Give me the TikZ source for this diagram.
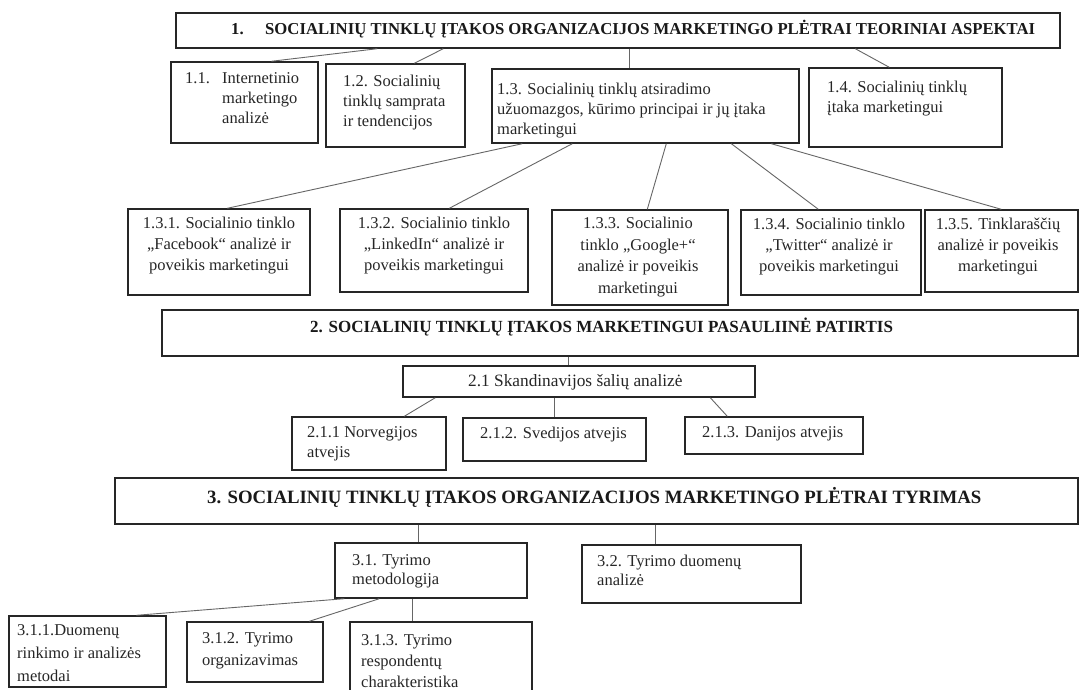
\documentclass[tikz,border=0pt]{standalone}
\usepackage{fontspec}
\setmainfont{Liberation Serif}
\usetikzlibrary{fit}
\begin{document}
\begin{tikzpicture}[x=1pt,y=-1pt,
  box/.style={draw=black!85, line width=1.4pt, inner sep=0pt},
  link/.style={draw=black!60, line width=0.9pt},
  txt/.style={inner sep=0pt, anchor=base west, align=left, text=black!85, font=\fontsize{16.5}{21}\selectfont},
  ctxt/.style={txt, anchor=base, align=center},
  head/.style={inner sep=0pt, anchor=base west, text=black!90, font=\fontsize{16.7}{20}\selectfont\bfseries}]
\clip (0,0) rectangle (1089,690);
\fill[white] (0,0) rectangle (1089,690);
% boxes
\node[box, fit={(176,13)(1060,48)}] (b1) {};
\node[box, fit={(171,62)(318,143)}] (b11) {};
\node[box, fit={(326,64)(465,147)}] (b12) {};
\node[box, fit={(492,69)(799,143)}] (b13) {};
\node[box, fit={(809,68)(1002,147)}] (b14) {};
\node[box, fit={(128,209)(310,295)}] (b131) {};
\node[box, fit={(340,209)(528,292)}] (b132) {};
\node[box, fit={(552,210)(728,305)}] (b133) {};
\node[box, fit={(741,210)(921,295)}] (b134) {};
\node[box, fit={(925,210)(1078,292)}] (b135) {};
\node[box, fit={(162,310)(1078,356)}] (b2) {};
\node[box, fit={(403,366)(755,397)}] (b21) {};
\node[box, fit={(292,417)(446,470)}] (b211) {};
\node[box, fit={(463,418)(646,461)}] (b212) {};
\node[box, fit={(685,417)(863,454)}] (b213) {};
\node[box, fit={(115,478)(1078,524)}] (b3) {};
\node[box, fit={(335,543)(527,598)}] (b31) {};
\node[box, fit={(582,545)(801,603)}] (b32) {};
\node[box, fit={(9,616)(166,687)}] (b311) {};
\node[box, fit={(187,622)(323,682)}] (b312) {};
\node[box, fit={(350,622)(532,700)}] (b313) {};
% connectors
\draw[link] ([xshift=202pt]b1.south west) -- ([xshift=101pt]b11.north west);
\draw[link] ([xshift=268pt]b1.south west) -- ([xshift=89pt]b12.north west);
\draw[link] ([xshift=454pt]b1.south west) -- ([xshift=138pt]b13.north west);
\draw[link] ([xshift=680pt]b1.south west) -- ([xshift=81pt]b14.north west);
\draw[link] ([xshift=31pt]b13.south west) -- ([xshift=100pt]b131.north west);
\draw[link] ([xshift=81pt]b13.south west) -- ([xshift=110pt]b132.north west);
\draw[link] ([xshift=175pt]b13.south west) -- ([xshift=96pt]b133.north west);
\draw[link] ([xshift=240pt]b13.south west) -- ([xshift=78pt]b134.north west);
\draw[link] ([xshift=280pt]b13.south west) -- ([xshift=77pt]b135.north west);
\draw[link] ([xshift=407pt]b2.south west) -- ([xshift=166pt]b21.north west);
\draw[link] ([xshift=33pt]b21.south west) -- ([xshift=113pt]b211.north west);
\draw[link] ([xshift=152pt]b21.south west) -- ([xshift=92pt]b212.north west);
\draw[link] ([xshift=308pt]b21.south west) -- ([xshift=43pt]b213.north west);
\draw[link] ([xshift=304pt]b3.south west) -- ([xshift=84pt]b31.north west);
\draw[link] ([xshift=541pt]b3.south west) -- ([xshift=74pt]b32.north west);
\draw[link] ([xshift=10pt]b31.south west) -- ([xshift=128pt]b311.north west);
\draw[link] ([xshift=45pt]b31.south west) -- ([xshift=123pt]b312.north west);
\draw[link] ([xshift=78pt]b31.south west) -- ([xshift=63pt]b313.north west);
% texts (anchor = baseline of the last line)
\node[head] (t1n) at (231,35) {1.};
\node[head] (t1) at (265,35) {SOCIALINIŲ TINKLŲ ĮTAKOS ORGANIZACIJOS MARKETINGO PLĖTRAI TEORINIAI ASPEKTAI};
\node[txt] (t11n) at (185,84) {1.1.};
\node[txt, font=\fontsize{16.5}{20}\selectfont] (t11) at (222,124) {Internetinio\\marketingo\\analizė};
\node[txt, font=\fontsize{16.5}{20}\selectfont] (t12) at (343,127) {1.2. Socialinių\\tinklų samprata\\ir tendencijos};
\node[txt, font=\fontsize{16.5}{20}\selectfont] (t13) at (497,135) {1.3. Socialinių tinklų atsiradimo\\užuomazgos, kūrimo principai ir jų įtaka\\marketingui};
\node[txt, font=\fontsize{16.5}{20}\selectfont] (t14) at (827,113) {1.4. Socialinių tinklų\\įtaka marketingui};
\node[ctxt] (t131) at (219,270) {1.3.1. Socialinio tinklo\\„Facebook“ analizė ir\\poveikis marketingui};
\node[ctxt] (t132) at (434,270) {1.3.2. Socialinio tinklo\\„LinkedIn“ analizė ir\\poveikis marketingui};
\node[ctxt, font=\fontsize{16.5}{21.5}\selectfont] (t133) at (638,293) {1.3.3. Socialinio\\tinklo „Google+“\\analizė ir poveikis\\marketingui};
\node[ctxt] (t134) at (829,271) {1.3.4. Socialinio tinklo\\„Twitter“ analizė ir\\poveikis marketingui};
\node[ctxt] (t135) at (998,271) {1.3.5. Tinklaraščių\\analizė ir poveikis\\marketingui};
\node[head, font=\fontsize{17}{20}\selectfont\bfseries] (t2) at (310,332) {2. SOCIALINIŲ TINKLŲ ĮTAKOS MARKETINGUI PASAULIINĖ PATIRTIS};
\node[txt, font=\fontsize{17.3}{20}\selectfont] (t21) at (468,386) {2.1 Skandinavijos šalių analizė};
\node[txt, font=\fontsize{16.5}{20}\selectfont] (t211) at (307,457) {2.1.1 Norvegijos\\atvejis};
\node[txt] (t212) at (480,438) {2.1.2. Svedijos atvejis};
\node[txt] (t213) at (702,437) {2.1.3. Danijos atvejis};
\node[head, font=\fontsize{18.8}{20}\selectfont\bfseries] (t3) at (207,503) {3. SOCIALINIŲ TINKLŲ ĮTAKOS ORGANIZACIJOS MARKETINGO PLĖTRAI TYRIMAS};
\node[txt, font=\fontsize{16.5}{19}\selectfont] (t31) at (352,584) {3.1. Tyrimo\\metodologija};
\node[txt, font=\fontsize{16.5}{19}\selectfont] (t32) at (597,585) {3.2. Tyrimo duomenų\\analizė};
\node[txt, font=\fontsize{16.5}{23}\selectfont] (t311) at (17,681) {3.1.1.Duomenų\\rinkimo ir analizės\\metodai};
\node[txt, font=\fontsize{16.5}{22}\selectfont] (t312) at (202,665) {3.1.2. Tyrimo\\organizavimas};
\node[txt, font=\fontsize{16.5}{21}\selectfont] (t313) at (361,687) {3.1.3. Tyrimo\\respondentų\\charakteristika};
\end{tikzpicture}
\end{document}
